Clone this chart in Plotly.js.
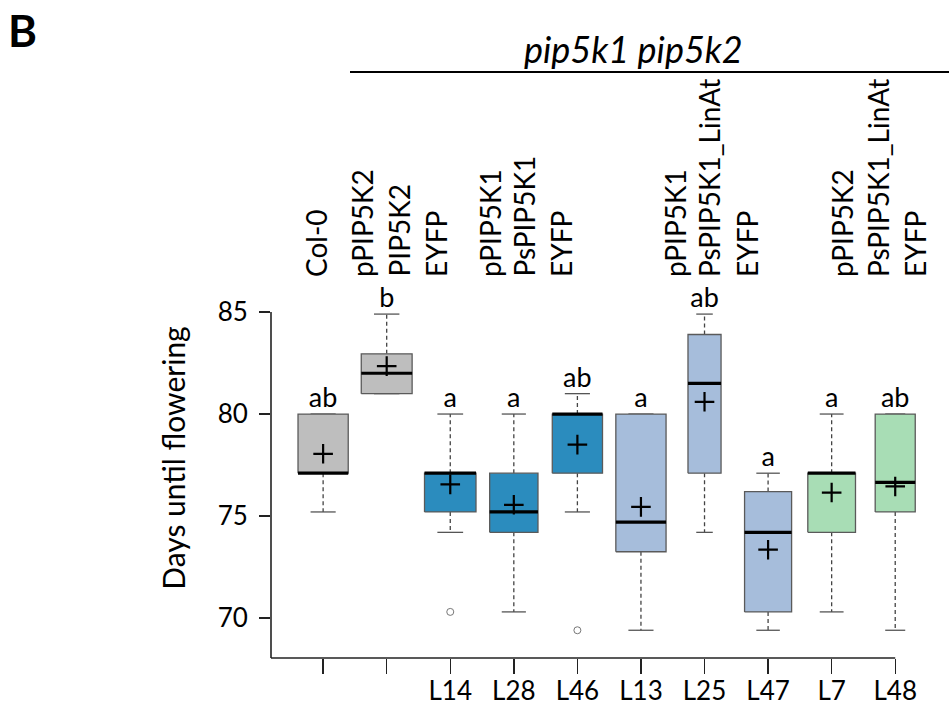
<!DOCTYPE html>
<html>
<head>
<meta charset="utf-8">
<script src="https://cdn.plot.ly/plotly-3.0.1.min.js"></script>
<style>html,body{margin:0;padding:0;background:#fff;}#chart{width:949px;height:707px;}</style>
</head>
<body>
<div id="chart"></div>
<script>
// ---- data ----
const categories   = ['Col-0', 'pPIP5K2', 'L14', 'L28', 'L46', 'L13', 'L25', 'L47', 'L7', 'L48'];
const tickLabels   = ['', '', 'L14', 'L28', 'L46', 'L13', 'L25', 'L47', 'L7', 'L48'];
const lowerWhisker = [75.2, 81.0, 74.2, 70.3, 75.2, 69.4, 74.2, 69.4, 70.3, 69.4];
const q1           = [77.1, 81.0, 75.2, 74.2, 77.1, 73.25, 77.1, 70.3, 74.2, 75.2];
const medians      = [77.1, 82.0, 77.1, 75.2, 80.0, 74.7, 81.5, 74.2, 77.1, 76.65];
const q3           = [80.0, 82.95, 77.1, 77.1, 80.0, 80.0, 83.9, 76.2, 77.1, 80.0];
const upperWhisker = [80.0, 84.9, 80.0, 80.0, 81.0, 80.0, 84.9, 77.1, 80.0, 80.0];
const means        = [78.05, 82.35, 76.55, 75.55, 78.5, 75.45, 80.6, 73.35, 76.15, 76.45];
const outlierCat   = ['L14', 'L46'];
const outlierVal   = [70.3, 69.4];
const letters      = ['ab', 'b', 'a', 'a', 'ab', 'a', 'ab', 'a', 'a', 'ab'];
const yTicks       = [70, 75, 80, 85];
const constructLabels = ['Col-0', 'pPIP5K2', 'PIP5K2', 'EYFP', 'pPIP5K1', 'PsPIP5K1', 'EYFP',
                         'pPIP5K1', 'PsPIP5K1_LinAt', 'EYFP', 'pPIP5K2', 'PsPIP5K1_LinAt', 'EYFP'];
const genotypeLabel = 'pip5k1 pip5k2';

// ---- style ----
const boxColors = ['#BEBEBE', '#BEBEBE', '#2B8CBE', '#2B8CBE', '#2B8CBE',
                   '#A6BDDB', '#A6BDDB', '#A6BDDB', '#A8DDB5', '#A8DDB5'];
const boxWidths = [0.79, 0.80, 0.81, 0.76, 0.79, 0.79, 0.52, 0.74, 0.75, 0.63];
const constructX = [316, 362, 398, 436, 490, 523, 561, 675, 709, 747, 842, 878, 915]; // px
const FONT = 'Lato, "Noto Sans", sans-serif';
const xRange = [-0.82, 9.5];
const yRange = [68.04, 87.65];
const L = 271, T = 258, W = 656, H = 400;
const px2x = p => (p - L) / W;
const px2y = p => (T + H - p) / H;

const traces = [];
// whiskers (dashed)
const wx = [], wy = [];
categories.forEach((c, i) => {
  wx.push(i, i, null, i, i, null);
  wy.push(q3[i], upperWhisker[i], null, q1[i], lowerWhisker[i], null);
});
traces.push({type: 'scatter', mode: 'lines', x: wx, y: wy, hoverinfo: 'skip',
  line: {color: '#444', width: 1.3, dash: '4px,3px'}});
// staples
const sx = [], sy = [];
categories.forEach((c, i) => {
  const h = boxWidths[i] / 4;
  sx.push(i - h, i + h, null, i - h, i + h, null);
  sy.push(upperWhisker[i], upperWhisker[i], null, lowerWhisker[i], lowerWhisker[i], null);
});
traces.push({type: 'scatter', mode: 'lines', x: sx, y: sy, hoverinfo: 'skip',
  line: {color: '#555', width: 1.3}});
// boxes
categories.forEach((c, i) => {
  const h = boxWidths[i] / 2;
  traces.push({type: 'scatter', mode: 'lines', fill: 'toself', fillcolor: boxColors[i],
    x: [i - h, i + h, i + h, i - h, i - h], y: [q1[i], q1[i], q3[i], q3[i], q1[i]],
    line: {color: '#5a5a5a', width: 1.3}, name: c, hoverinfo: 'skip'});
});
// medians
const mx = [], my = [];
categories.forEach((c, i) => {
  const h = boxWidths[i] / 2;
  mx.push(i - h, i + h, null);
  my.push(medians[i], medians[i], null);
});
traces.push({type: 'scatter', mode: 'lines', x: mx, y: my, hoverinfo: 'skip',
  line: {color: '#000', width: 3.2}});
// means
traces.push({type: 'scatter', mode: 'markers', x: categories.map((c, i) => i), y: means,
  marker: {symbol: 'cross-thin', size: 14, line: {color: '#000', width: 2.2}}});
// outliers
traces.push({type: 'scatter', mode: 'markers', x: outlierCat.map(c => categories.indexOf(c)), y: outlierVal,
  marker: {symbol: 'circle-open', size: 7, color: '#777', line: {width: 1}}});
// significance letters
traces.push({type: 'scatter', mode: 'text', x: categories.map((c, i) => i), y: upperWhisker,
  text: letters, textposition: 'top center', cliponaxis: false,
  textfont: {family: FONT, size: 27, color: '#000'}, hoverinfo: 'skip'});

const annotations = [];
annotations.push({xref: 'paper', yref: 'paper', x: px2x(6), y: px2y(30), xanchor: 'left', yanchor: 'middle',
  text: '<b>B</b>', showarrow: false, font: {family: FONT, size: 44, color: '#000'}});
annotations.push({xref: 'paper', yref: 'paper', x: px2x(633), y: px2y(49), xanchor: 'center', yanchor: 'middle',
  text: '<i>' + genotypeLabel + '</i>', showarrow: false, font: {family: FONT, size: 36, color: '#000'}});
constructLabels.forEach((t, k) => {
  annotations.push({xref: 'paper', yref: 'paper', x: px2x(constructX[k]), y: px2y(279),
    xanchor: 'center', yanchor: 'bottom', textangle: -90, text: t, showarrow: false,
    font: {family: FONT, size: 28, color: '#000'}});
});

const layout = {
  width: 949, height: 707,
  margin: {l: L, r: 949 - L - W, t: T, b: 707 - T - H},
  paper_bgcolor: '#fff', plot_bgcolor: '#fff',
  showlegend: false,
  font: {family: FONT, color: '#000'},
  xaxis: {range: xRange, tickmode: 'array', tickvals: categories.map((c, i) => i), ticktext: tickLabels,
    ticks: 'outside', ticklen: 15, tickwidth: 1.4, tickcolor: '#222', showline: false, showgrid: false,
    zeroline: false, ticklabelstandoff: -5, tickfont: {family: FONT, size: 26, color: '#000'}, fixedrange: true},
  yaxis: {range: yRange, tickmode: 'array', tickvals: yTicks, ticks: 'outside', ticklen: 11, tickwidth: 1.4,
    tickcolor: '#222', showline: false, showgrid: false, zeroline: false, ticklabelstandoff: 6,
    tickfont: {family: FONT, size: 26, color: '#000'},
    title: {text: 'Days until flowering', font: {family: FONT, size: 30, color: '#000'}, standoff: 23}},
  shapes: [
    {type: 'line', xref: 'paper', yref: 'y', x0: 0, x1: 0, y0: yRange[0], y1: yTicks[yTicks.length - 1],
      line: {color: '#222', width: 1.6}},
    {type: 'line', xref: 'x', yref: 'paper', x0: xRange[0], x1: categories.length - 1, y0: 0, y1: 0,
      line: {color: '#222', width: 1.6}},
    {type: 'line', xref: 'paper', yref: 'paper', x0: px2x(350), x1: px2x(949), y0: px2y(72), y1: px2y(72),
      line: {color: '#000', width: 2}}
  ],
  annotations: annotations
};

Plotly.newPlot('chart', traces, layout, {staticPlot: true, displayModeBar: false});
</script>
</body>
</html>
